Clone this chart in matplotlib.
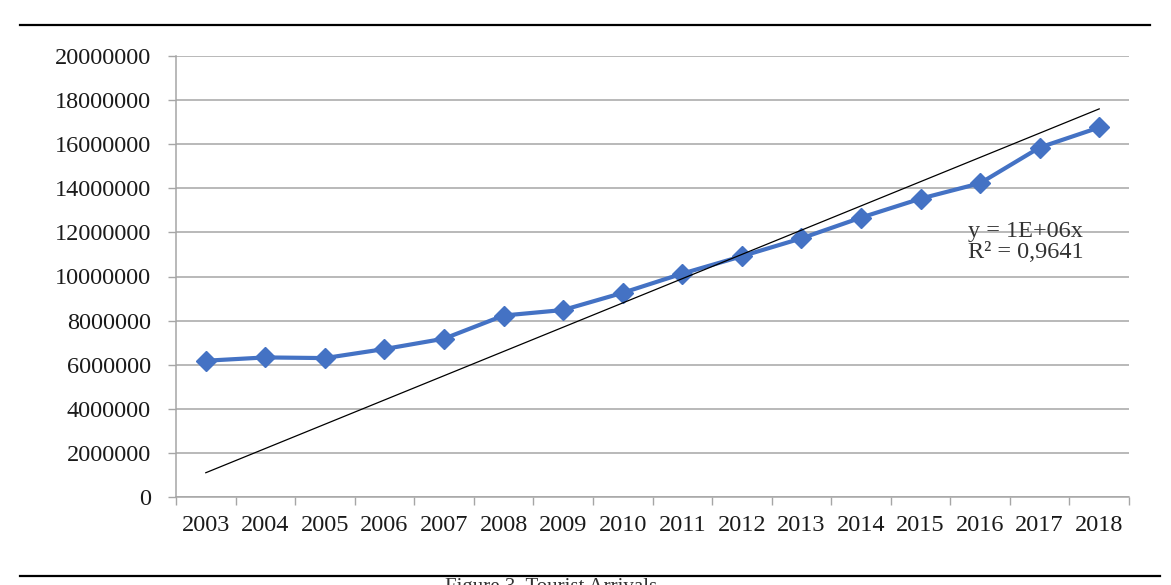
import numpy as np
import matplotlib
matplotlib.use("Agg")
import matplotlib.pyplot as plt
from matplotlib.lines import Line2D

# Tourist arrivals per year
years = ["2003", "2004", "2005", "2006", "2007", "2008", "2009", "2010",
         "2011", "2012", "2013", "2014", "2015", "2016", "2017", "2018"]
arrivals = [6180000, 6330000, 6300000, 6710000, 7180000, 8230000, 8480000, 9260000,
            10130000, 10920000, 11730000, 12670000, 13530000, 14230000, 15850000, 16760000]
yticks = [0, 2000000, 4000000, 6000000, 8000000, 10000000, 12000000, 14000000,
          16000000, 18000000, 20000000]
trend_label = "y = 1E+06x\nR\u00b2 = 0,9641"
caption = "Figure 3. Tourist Arrivals"

plt.rcParams["font.family"] = ["Liberation Serif", "DejaVu Serif"]

fig = plt.figure(figsize=(11.71, 5.85), dpi=100)
ax = fig.add_axes([176 / 1171, 1 - 497 / 585, (1129 - 176) / 1171, (497 - 56) / 585])

x = np.arange(1, len(years) + 1)
y = np.array(arrivals, dtype=float)

# Linear trendline forced through the origin (Excel style)
slope = np.sum(x * y) / np.sum(x * x)
trend = slope * x

ax.plot(x, y, color="#4472C4", lw=3.0, marker="D", markersize=10.5,
        markerfacecolor="#4472C4", markeredgecolor="#4472C4", zorder=3)
ax.plot([x[0], x[-1]], [trend[0], trend[-1]], color="black", lw=0.9, zorder=4)

ax.set_xlim(0.5, len(years) + 0.5)
ax.set_ylim(0, 20000000)
ax.set_yticks(yticks)
ax.set_yticklabels([str(v) for v in yticks])

# category boundaries as major ticks, labels on minor ticks at centres
ax.set_xticks(np.arange(0.5, len(years) + 1, 1.0))
ax.set_xticklabels([])
ax.set_xticks(x, minor=True)
ax.set_xticklabels(years, minor=True)
ax.tick_params(axis="x", which="major", length=6, width=1, color="#A6A6A6", direction="out")
ax.tick_params(axis="x", which="minor", length=0, pad=13, labelsize=17.5, labelcolor="#1a1a1a")
ax.tick_params(axis="y", length=6, width=1, color="#A6A6A6", pad=12,
               labelsize=17.5, labelcolor="#1a1a1a")

ax.grid(axis="y", color="#A6A6A6", lw=1.1)
ax.set_axisbelow(True)
for side in ["top", "right"]:
    ax.spines[side].set_visible(False)
for side in ["left", "bottom"]:
    ax.spines[side].set_color("#A6A6A6")
    ax.spines[side].set_linewidth(1.1)

ax.text(968 / 1171, 1 - 242 / 585, trend_label, transform=fig.transFigure,
        fontsize=17.5, color="#333333", ha="left", va="center", linespacing=1.0)

# page rules above and below the chart
fig.add_artist(Line2D([20 / 1171, 1150 / 1171], [1 - 25 / 585] * 2,
                      transform=fig.transFigure, color="black", lw=1.6))
fig.add_artist(Line2D([20 / 1171, 1160 / 1171], [1 - 576 / 585] * 2,
                      transform=fig.transFigure, color="black", lw=1.6))
fig.text(445 / 1171, 1 - 578 / 585, caption, fontsize=15, color="#333333",
         ha="left", va="top")

fig.savefig("out.png", dpi=100)
